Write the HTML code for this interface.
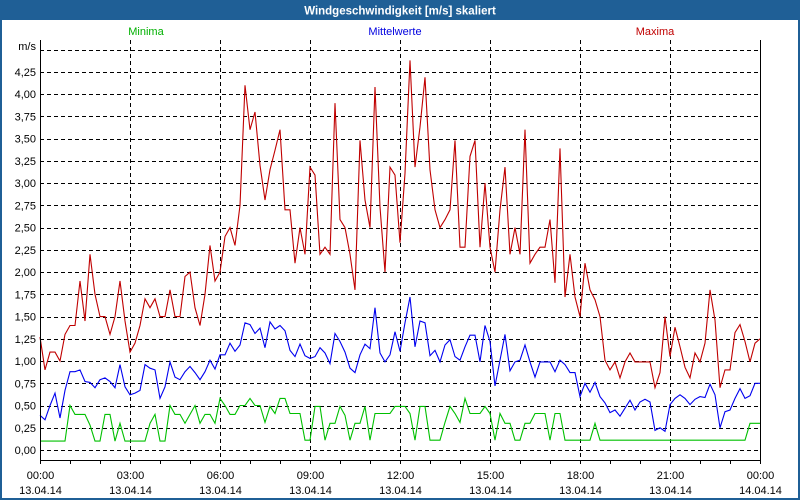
<!DOCTYPE html>
<html><head><meta charset="utf-8">
<style>
html,body{margin:0;padding:0;width:800px;height:500px;overflow:hidden;background:#fff;}
svg{display:block;font-family:"Liberation Sans",sans-serif;}
</style></head>
<body>
<svg id="chart" width="800" height="500">
  <rect x="1" y="1" width="798" height="498" fill="#fff" stroke="#1f5f96" stroke-width="2"/>
  <rect x="0" y="0" width="800" height="20" fill="#1f5f96"/>
  <text x="400" y="14.5" text-anchor="middle" fill="#fff" font-size="11.5" font-weight="bold">Windgeschwindigkeit [m/s] skaliert</text>
  <text x="146" y="35" text-anchor="middle" fill="#00b000" font-size="11">Minima</text>
  <text x="395" y="35" text-anchor="middle" fill="#0000e0" font-size="11">Mittelwerte</text>
  <text x="655" y="35" text-anchor="middle" fill="#c00000" font-size="11">Maxima</text>
  <text x="36" y="50" text-anchor="end" fill="#000" font-size="11">m/s</text>
  <g id="grid" shape-rendering="crispEdges"></g>
  <g id="series"></g>
  <line x1="40.5" y1="40" x2="40.5" y2="460.5" stroke="#000"/>
  <line x1="40" y1="460.5" x2="760.5" y2="460.5" stroke="#000"/>
  <line x1="760.5" y1="40" x2="760.5" y2="460.5" stroke="#000"/>
</svg>
<script>
const yTicks = ["0,00","0,25","0,50","0,75","1,00","1,25","1,50","1,75","2,00","2,25","2,50","2,75","3,00","3,25","3,50","3,75","4,00","4,25"];
const xTickTimes = ["00:00","03:00","06:00","09:00","12:00","15:00","18:00","21:00","00:00"];
const xTickDates = ["13.04.14","13.04.14","13.04.14","13.04.14","13.04.14","13.04.14","13.04.14","13.04.14","14.04.14"];
const stepMinutes = 10;
const maxima = [1.27,0.9,1.1,1.1,1.0,1.3,1.4,1.4,1.9,1.45,2.2,1.75,1.5,1.5,1.3,1.5,1.9,1.45,1.1,1.2,1.4,1.7,1.6,1.7,1.5,1.5,1.8,1.5,1.5,1.95,2.0,1.6,1.4,1.75,2.3,1.9,2.0,2.4,2.5,2.3,2.75,4.1,3.6,3.8,3.2,2.81,3.15,3.37,3.6,2.7,2.7,2.1,2.5,2.2,3.18,3.09,2.2,2.28,2.2,3.9,2.59,2.5,2.2,1.8,3.48,2.81,2.5,4.08,2.73,2.0,3.18,3.09,2.33,3.11,4.38,3.18,3.63,4.19,3.15,2.7,2.5,2.59,2.7,3.48,2.28,2.28,3.3,3.48,2.28,3.0,2.28,2.0,2.7,3.18,2.2,2.5,2.2,3.6,2.1,2.2,2.28,2.28,2.59,1.88,3.39,1.72,2.2,1.72,1.5,2.1,1.8,1.69,1.5,1.01,0.9,0.99,0.81,0.99,1.09,0.99,0.99,0.99,0.99,0.7,0.87,1.5,1.05,1.38,1.16,0.93,0.81,1.09,0.99,1.2,1.8,1.46,0.7,0.9,0.9,1.32,1.41,1.22,0.99,1.2,1.25];
const mittel = [0.39,0.34,0.5,0.64,0.36,0.67,0.88,0.88,0.9,0.77,0.76,0.7,0.79,0.81,0.77,0.7,0.96,0.71,0.62,0.64,0.67,0.96,0.92,0.9,0.58,0.71,0.99,0.82,0.79,0.88,0.94,0.87,0.79,0.88,1.01,0.91,1.07,1.07,1.2,1.11,1.18,1.43,1.41,1.31,1.37,1.15,1.44,1.36,1.4,1.34,1.12,1.05,1.19,1.06,1.03,1.05,1.15,1.09,0.97,1.31,1.22,1.1,0.92,0.87,1.07,1.19,1.14,1.6,1.09,0.99,1.07,1.33,1.11,1.43,1.72,1.16,1.45,1.43,1.06,1.12,0.99,1.18,1.24,1.05,1.01,1.16,1.29,1.29,0.99,1.4,1.22,0.72,1.01,1.3,0.89,0.99,1.01,1.18,0.99,0.82,0.99,0.99,0.99,0.88,1.01,0.96,0.87,0.87,0.6,0.75,0.65,0.76,0.6,0.53,0.42,0.45,0.38,0.47,0.56,0.45,0.54,0.57,0.54,0.22,0.25,0.21,0.51,0.58,0.62,0.58,0.51,0.57,0.6,0.59,0.74,0.62,0.25,0.43,0.45,0.58,0.69,0.58,0.61,0.75,0.75];
const minima = [0.1,0.1,0.1,0.1,0.1,0.1,0.5,0.4,0.4,0.4,0.28,0.1,0.1,0.4,0.4,0.1,0.3,0.1,0.1,0.1,0.1,0.1,0.3,0.4,0.1,0.1,0.5,0.4,0.4,0.3,0.4,0.5,0.3,0.4,0.4,0.3,0.58,0.5,0.4,0.4,0.5,0.5,0.58,0.5,0.5,0.31,0.49,0.41,0.58,0.58,0.41,0.41,0.41,0.11,0.11,0.49,0.49,0.11,0.3,0.3,0.49,0.39,0.11,0.3,0.3,0.49,0.11,0.41,0.41,0.41,0.41,0.49,0.49,0.49,0.41,0.11,0.49,0.49,0.11,0.11,0.11,0.31,0.49,0.41,0.31,0.58,0.41,0.41,0.41,0.49,0.41,0.11,0.41,0.3,0.3,0.11,0.11,0.3,0.3,0.41,0.41,0.41,0.11,0.41,0.41,0.11,0.11,0.11,0.11,0.11,0.11,0.3,0.11,0.11,0.11,0.11,0.11,0.11,0.11,0.11,0.11,0.11,0.11,0.11,0.11,0.11,0.11,0.11,0.11,0.11,0.11,0.11,0.11,0.11,0.11,0.11,0.11,0.11,0.11,0.11,0.11,0.11,0.3,0.3,0.3];

const NS = "http://www.w3.org/2000/svg";
const X0 = 40, X1 = 760, Y0 = 450, PER = 88.96;
function xScale(min){ return X0 + min/1440*(X1-X0); }
function yScale(v){ return Y0 - v*PER; }
function mk(tag, attrs, parent){ const e=document.createElementNS(NS,tag); for(const k in attrs) e.setAttribute(k,attrs[k]); parent.appendChild(e); return e; }

const grid = document.getElementById('grid');
const svg = document.getElementById('chart');
for(let i=0;i<=18;i++){
  const y = Math.round(yScale(i*0.25))+0.5;
  const l = mk('line',{x1:X0,x2:X1,y1:y,y2:y,stroke:'#000','stroke-dasharray':'4,3'},grid);
  
  
}
yTicks.forEach((t,i)=>{
  const tx = mk('text',{x:36,y:yScale(i*0.25)+4,'text-anchor':'end','font-size':'11',fill:'#000'},svg);
  tx.textContent = t;
  
  
});
xTickTimes.forEach((t,i)=>{
  const x = Math.round(xScale(i*180))+0.5;
  if(i>0 && i<8){
    const l = mk('line',{x1:x,x2:x,y1:40,y2:460,stroke:'#000','stroke-dasharray':'4,3'},grid);
    
    
  }
  const a = mk('text',{x:x,y:479,'text-anchor':'middle','font-size':'11',fill:'#000'},svg);
  a.textContent = t;
  
  
  const b = mk('text',{x:x,y:494,'text-anchor':'middle','font-size':'11',fill:'#000'},svg);
  b.textContent = xTickDates[i];
  
  
});
for(let h=0;h<=24;h++){
  const x = Math.round(xScale(h*60))+0.5;
  const l = mk('line',{x1:x,x2:x,y1:460,y2:464,stroke:'#000'},svg);
  
  
}
const series = document.getElementById('series');
function drawLine(vals,color,name){
  const pts = vals.map((v,i)=>xScale(i*stepMinutes).toFixed(1)+','+yScale(v).toFixed(1)).join(' ');
  const p = mk('polyline',{points:pts,fill:'none',stroke:color,'stroke-width':'1.1'},series);
  
  
}
drawLine(minima,'#00c000','minima-line');
drawLine(mittel,'#0000f0','mittelwerte-line');
drawLine(maxima,'#c00000','maxima-line');
</script>
</body></html>
